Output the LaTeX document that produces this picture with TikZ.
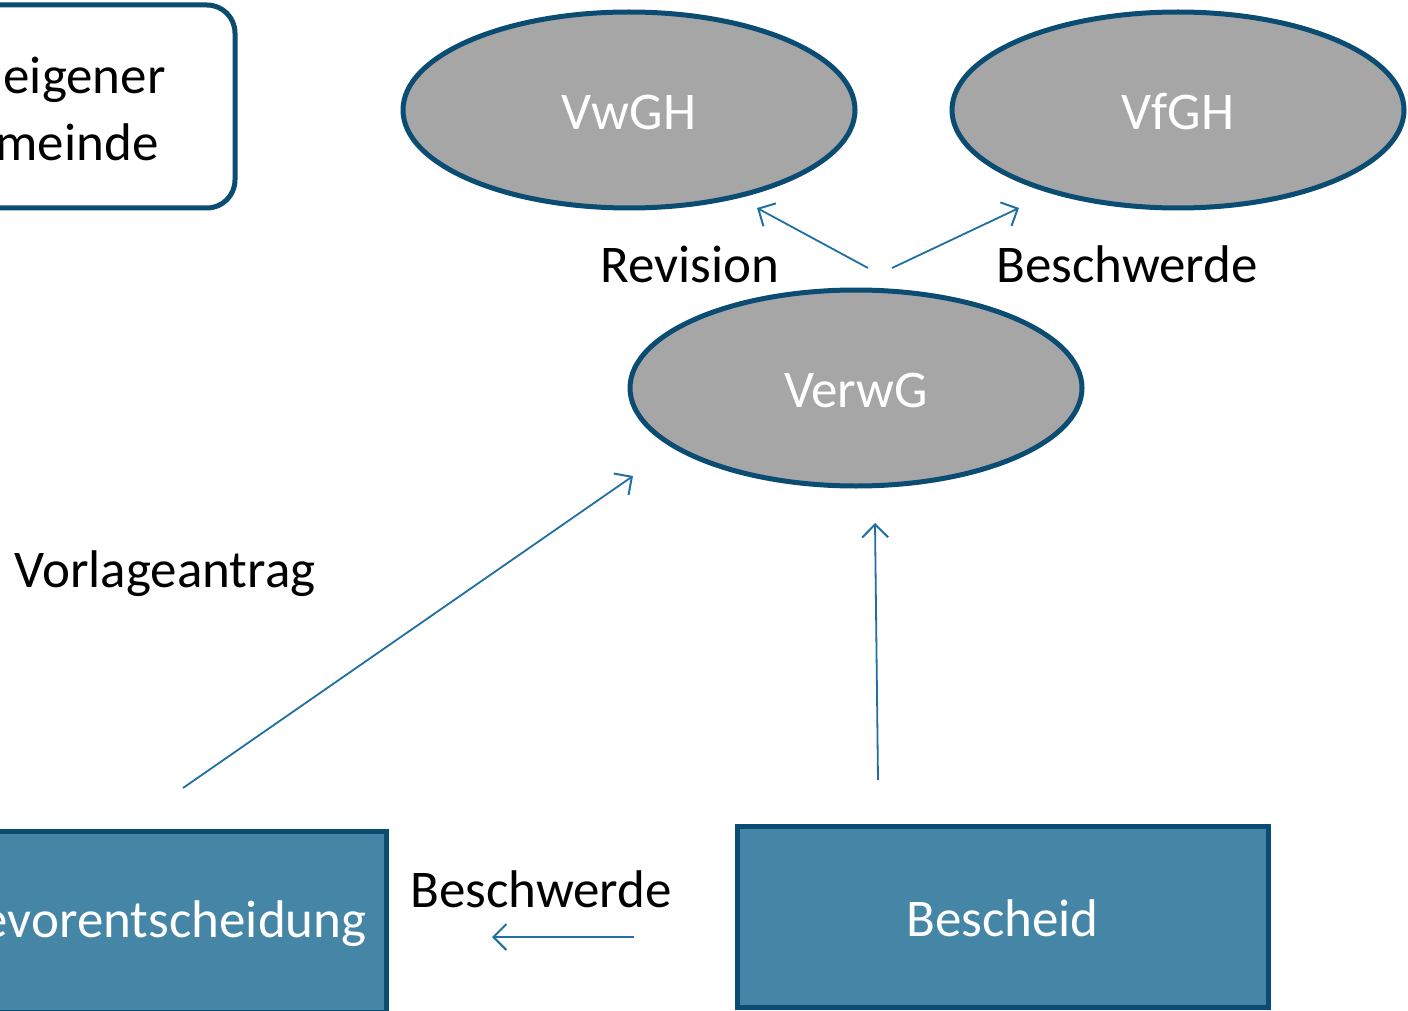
\documentclass[tikz,border=0pt]{standalone}
\usepackage{fontspec}
\setmainfont{Carlito}
\usetikzlibrary{shapes.geometric,arrows.meta}
\definecolor{rimblue}{HTML}{0B4C73}
\definecolor{courtgray}{HTML}{A6A6A6}
\definecolor{boxblue}{HTML}{4586A7}
\definecolor{arrowblue}{HTML}{1F6FA3}
\tikzset{
    court/.style={ellipse, draw=rimblue, line width=5pt, fill=courtgray, text=white,
        minimum width=452pt, minimum height=196pt, inner sep=0pt, text height=40pt},
    decision/.style={rectangle, draw=rimblue, line width=5pt, fill=boxblue, text=white,
        minimum width=531pt, minimum height=181pt, inner sep=0pt, text height=40pt},
    infobox/.style={rectangle, draw=rimblue, line width=5pt, fill=white, rounded corners=28pt,
        minimum width=300pt, minimum height=203pt, inner sep=0pt},
    flow/.style={-{Straight Barb[length=13pt,width=26pt,line width=2pt]}, line width=1.8pt, arrowblue},
    tag/.style={font=\fontsize{53}{62}\selectfont}
}
\begin{document}
\begin{tikzpicture}[x=1pt,y=-1pt, font=\fontsize{53}{62}\selectfont]
\useasboundingbox (0,0) rectangle (1408,1011);

% upper left box (cut at the page edge)
\node[infobox] (wirk) at (85,106.5) {};
\node[anchor=west] (wirka) at (0,80) {eigener};
\node[anchor=west] (wirkb) at (-8,142) {meinde};

% courts
\node[court] (vwgh) at (629,110) {VwGH};
\node[court] (vfgh) at (1178,110) {VfGH};
\node[court] (verwg) at (856,388) {VerwG};

% decisions
\node[decision, minimum width=460pt] (bve) at (156,921.5) {};
\node[anchor=east, text=white] (bvetext) at (370,924) {evorentscheidung};
\node[decision] (bescheid) at (1002.5,916.5) {Bescheid};

% arrow ends
\coordinate (revfrom) at (868,268);
\coordinate (revto) at (757,208);
\coordinate (bwfrom) at (892,268);
\coordinate (bwto) at (1019,208);
\coordinate (vlfrom) at (183,788);
\coordinate (vlto) at (633,476);
\coordinate (bsfrom) at (878,780);
\coordinate (bsto) at (875,523);
\coordinate (bvfrom) at (634,937);
\coordinate (bvto) at (492,937);

\draw[flow] (revfrom) -- (revto);
\draw[flow] (bwfrom) -- (bwto);
\draw[flow] (vlfrom) -- (vlto);
\draw[flow] (bsfrom) -- (bsto);
\draw[flow] (bvfrom) -- (bvto);

% labels
\node[tag] (revision) at (690,264) {Revision};
\node[tag] (beschwerdeo) at (1127,264) {Beschwerde};
\node[tag] (vorlage) at (165,574) {Vorlageantrag};
\node[tag] (beschwerdeu) at (541,889) {Beschwerde};
\end{tikzpicture}
\end{document}
